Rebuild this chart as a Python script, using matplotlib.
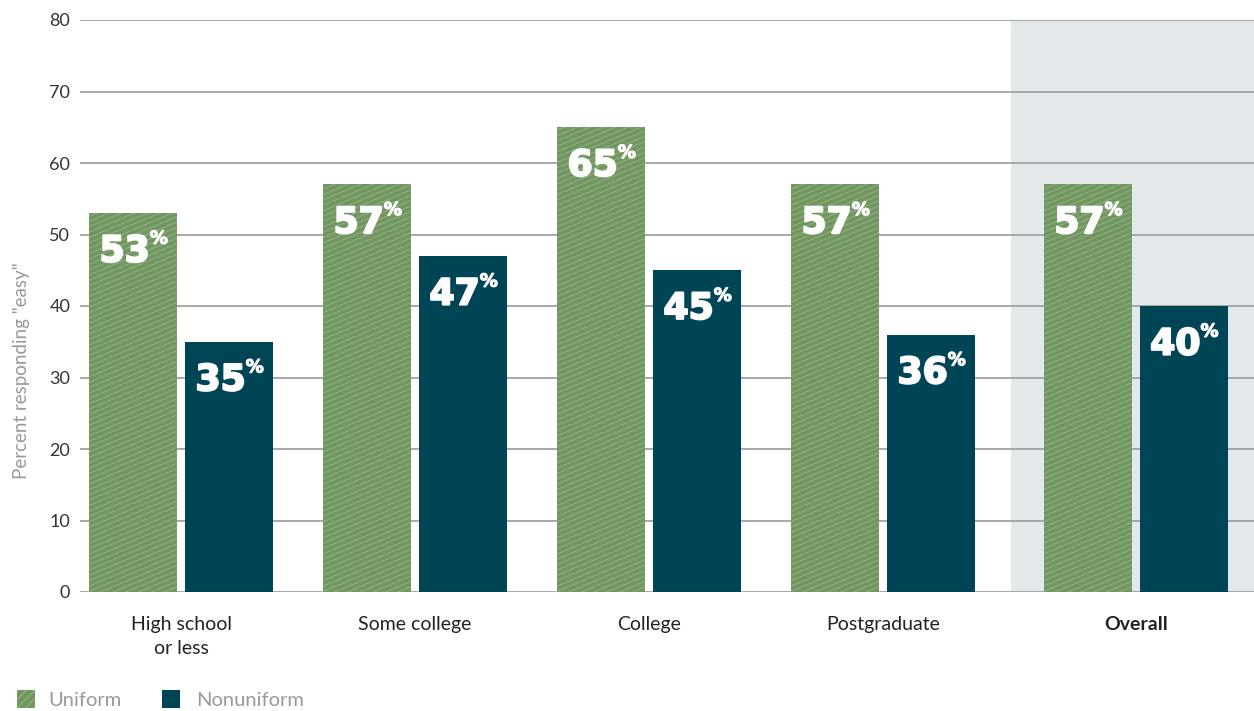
import matplotlib
matplotlib.use("Agg")
import matplotlib.pyplot as plt
import matplotlib.patheffects as pe
import numpy as np
from matplotlib.patches import Rectangle
from matplotlib.collections import LineCollection

# Datos
categories = ["High school\nor less", "Some college", "College", "Postgraduate", "Overall"]
uniform = [53, 57, 65, 57, 57]
nonuniform = [35, 47, 45, 36, 40]
positions = [0, 1, 2, 3, 4.08]
yticks = [0, 10, 20, 30, 40, 50, 60, 70, 80]

green = "#72965f"
hatch_col = "#8fae80"
navy = "#004556"
shade = "#e3e8eb"
grid_col = "#9a9a9a"

plt.rcParams["font.family"] = ["Lato", "DejaVu Sans"]

fig = plt.figure(figsize=(12.54, 7.11), dpi=100)
ax = fig.add_axes([80 / 1254, (711 - 592) / 711, (1254 - 80) / 1254, (592 - 20) / 711])

w = 0.376
off = 0.205
xmin, xmax = -0.432, 4.585
ax.set_xlim(xmin, xmax)
ax.set_ylim(0, 80)

# fondo del grupo "Overall"
ax.axvspan(3.547, xmax, color=shade, zorder=0, lw=0)

ax.set_yticks(yticks)
ax.yaxis.grid(True, color=grid_col, lw=1.2, zorder=1)
ax.set_axisbelow(True)
for s in ax.spines.values():
    s.set_visible(False)
ax.tick_params(axis="y", length=0, labelsize=13, pad=7, labelcolor="#333333")
ax.tick_params(axis="x", length=0, labelsize=14, pad=17, labelcolor="#222222")
ax.set_xticks(positions)
ax.set_xticklabels(categories, linespacing=1.5)
ax.get_xticklabels()[-1].set_fontweight("bold")

# barras
slope = 0.42 * (1254 - 80) / (xmax - xmin) / (572 / 80)
thick = [pe.withStroke(linewidth=1.5, foreground="white")]
for i, p in enumerate(positions):
    b1 = ax.bar(p - off, uniform[i], w, color=green, zorder=2)[0]
    b2 = ax.bar(p + off, nonuniform[i], w, color=navy, zorder=2)[0]
    # rayado diagonal claro
    x0 = p - off - w / 2
    x1 = p - off + w / 2
    segs = []
    for y0 in np.arange(-slope * w, uniform[i] + 1, 0.75):
        segs.append([(x0, y0), (x1, y0 + slope * w)])
    lc = LineCollection(segs, colors=hatch_col, lw=0.8, zorder=3)
    ax.add_collection(lc)
    lc.set_clip_path(b1)
    # etiquetas
    for xc, v in [(p - off, uniform[i]), (p + off, nonuniform[i])]:
        ax.annotate(str(v), (xc, v), xytext=(12, -35), textcoords="offset points",
                    ha="right", va="baseline", color="white", fontsize=26,
                    family="DejaVu Sans", fontweight="bold", zorder=4,
                    path_effects=thick)
        ax.annotate("%", (xc, v), xytext=(12, -12), textcoords="offset points",
                    ha="left", va="top", color="white", fontsize=13,
                    family="DejaVu Sans", fontweight="bold", zorder=4,
                    path_effects=[pe.withStroke(linewidth=0.8, foreground="white")])

fig.text(22 / 1254, 1 - 371 / 711, 'Percent responding "easy"', rotation=90,
         ha="center", va="center", fontsize=13.5, color="#999999")

# leyenda
fig.patches.append(Rectangle((17 / 1254, 1 - 708 / 711), 18 / 1254, 18 / 711,
                             transform=fig.transFigure, facecolor=green,
                             edgecolor=hatch_col, hatch="////", lw=0))
fig.text(48 / 1254, 1 - 700 / 711, "Uniform", fontsize=14.5, color="#999999", va="center")
fig.patches.append(Rectangle((162 / 1254, 1 - 708 / 711), 18 / 1254, 18 / 711,
                             transform=fig.transFigure, facecolor=navy, lw=0))
fig.text(196 / 1254, 1 - 700 / 711, "Nonuniform", fontsize=14.5, color="#999999", va="center")

fig.savefig("out.png", dpi=100)
